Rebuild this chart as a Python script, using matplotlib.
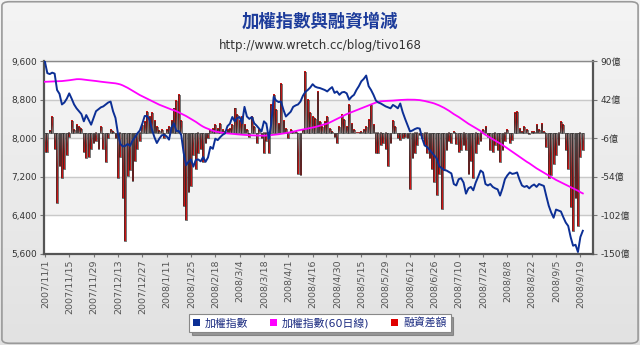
import numpy as np
import matplotlib
matplotlib.use('Agg')
import matplotlib.pyplot as plt
from matplotlib.colors import LinearSegmentedColormap
from matplotlib.patches import Patch, FancyBboxPatch

plt.rcParams['font.family'] = ['DejaVu Sans', 'Noto Sans CJK TC']

# x axis labels (every 10 trading days)
date_labels = ['2007/11/1', '2007/11/15', '2007/11/29', '2007/12/13', '2007/12/27',
               '2008/1/11', '2008/1/25', '2008/2/18', '2008/3/4', '2008/3/18',
               '2008/4/1', '2008/4/16', '2008/4/30', '2008/5/15', '2008/5/29',
               '2008/6/12', '2008/6/26', '2008/7/10', '2008/7/24', '2008/8/8',
               '2008/8/22', '2008/9/5', '2008/9/19']

left_ticks = [5600, 6400, 7200, 8000, 8800, 9600]
right_ticks = [-150, -102, -54, -6, 42, 90]

# 加權指數 (daily close)
taiex = [9590, 9350, 9330, 9360, 9340, 9000, 8920, 8700, 8740, 8820,
         8930, 8820, 8700, 8620, 8560, 8500, 8350, 8480, 8380, 8280,
         8420, 8560, 8600, 8640, 8660, 8700, 8740, 8760, 8560, 8420,
         8100, 7880, 7830, 7840, 7880, 7840, 7950, 8020, 8100, 8160,
         8300, 8460, 8460, 8380, 8180, 8020, 7900, 7990, 8060, 8070,
         8040, 7970, 8220, 8310, 8150, 8150, 8070, 7700, 7440, 7510,
         7560, 7410, 7550, 7560, 7520, 7610, 7510, 7600, 7820, 7780,
         7990, 7960, 8020, 8070, 8100, 8250, 8300, 8440, 8350, 8420,
         8440, 8310, 8650, 8450, 8400, 8440, 8310, 8260, 8200, 8140,
         8350, 8300, 7990, 8300, 8860, 8780, 8750, 8760, 8590, 8450,
         8500, 8550, 8650, 8680, 8700, 8760, 8880, 8960, 9000, 9050,
         9120, 9070, 9050, 9040, 9020, 9000, 8970, 9020, 9060, 8940,
         8970, 8900, 8950, 8960, 8930, 8800, 8860, 8900, 9000, 9080,
         9180, 9230, 9300, 9080, 9000, 8900, 8780, 8740, 8720, 8690,
         8660, 8640, 8620, 8690, 8660, 8620, 8720, 8540, 8400, 8270,
         8140, 8160, 8190, 8210, 8200, 8000, 7850, 7820, 7760, 7700,
         7640, 7580, 7420, 7380, 7340, 7330, 7300, 7270, 7050, 7020,
         7150, 7170, 7080, 6850, 6960, 6990, 6920, 7080, 7200, 7330,
         7290, 7050, 7020, 7050, 6990, 6960, 6940, 6810, 6960, 7150,
         7230, 7290, 7260, 7270, 7290, 7140, 7020, 6990, 7010, 6960,
         7010, 7040, 6990, 7050, 7030, 7010, 6800, 6600, 6460, 6350,
         6520, 6500, 6480, 6360, 6250, 6180, 5950, 5770, 5790, 5640,
         5950, 6080]

# 加權指數 60日線
ma60 = [9170, 9172, 9174, 9176, 9178, 9180, 9182, 9185, 9190, 9196,
        9202, 9210, 9220, 9224, 9225, 9222, 9215, 9208, 9203, 9198,
        9193, 9186, 9180, 9172, 9165, 9160, 9155, 9150, 9145, 9138,
        9128, 9115, 9095, 9070, 9045, 9015, 8985, 8955, 8925, 8895,
        8870, 8845, 8820, 8795, 8770, 8745, 8720, 8695, 8675, 8655,
        8635, 8615, 8595, 8580, 8560, 8535, 8510, 8485, 8460, 8430,
        8400, 8370, 8340, 8305, 8270, 8240, 8215, 8195, 8175, 8155,
        8140, 8130, 8120, 8112, 8105, 8100, 8095, 8090, 8085, 8080,
        8076, 8072, 8068, 8065, 8062, 8060, 8057, 8054, 8052, 8050,
        8052, 8055, 8060, 8065, 8070, 8075, 8082, 8090, 8098, 8106,
        8115, 8125, 8135, 8148, 8160, 8170, 8180, 8190, 8200, 8208,
        8220, 8232, 8245, 8260, 8275, 8290, 8305, 8325, 8350, 8375,
        8400, 8425, 8450, 8475, 8500, 8520, 8540, 8560, 8580, 8600,
        8620, 8640, 8660, 8680, 8700, 8720, 8740, 8755, 8765, 8770,
        8773, 8775, 8777, 8780, 8785, 8790, 8793, 8796, 8798, 8800,
        8800, 8800, 8798, 8795, 8790, 8782, 8772, 8760, 8748, 8735,
        8720, 8700, 8680, 8655, 8630, 8600, 8570, 8535, 8500, 8470,
        8440, 8405, 8370, 8335, 8300, 8270, 8240, 8210, 8180, 8150,
        8105, 8070, 8040, 8010, 7980, 7950, 7920, 7890, 7860, 7825,
        7790, 7755, 7720, 7685, 7650, 7615, 7580, 7545, 7510, 7480,
        7445, 7410, 7375, 7345, 7315, 7285, 7255, 7225, 7195, 7165,
        7135, 7110, 7085, 7060, 7035, 7010, 6985, 6960, 6935, 6910,
        6880, 6855]

# 融資差額 (億)
margin = [-23, -23, 3, 21, -19, -87, -40, -56, -44, -27,
          -5, 15, 4, 10, 8, 6, -23, -31, -29, -19,
          -12, -10, -19, 8, -19, -35, -6, 4, 2, -6,
          -55, -30, -80, -134, -53, -45, -59, -34, -19, -10,
          10, 14, 27, 20, 25, 16, 8, 3, 4, -6,
          4, 8, 16, 31, 40, 48, 15, -90, -108, -73,
          -65, -27, -44, -25, -19, -35, -12, -6, 4, 6,
          10, 6, 12, 4, 2, 4, 6, 10, 31, 23,
          15, 21, 10, 4, -4, 21, 8, -12, 4, -6,
          -25, -10, -25, 35, 48, 29, 12, 62, 15, 6,
          -6, 4, 2, 2, -50, -52, 4, 77, 42, 25,
          21, 18, 52, 14, 8, 14, 21, 6, 2, -4,
          -12, 8, 23, 17, 8, 35, 12, 4, 1, 1,
          2, 4, 8, 17, 35, 10, -25, -25, -15, -12,
          -20, -40, -12, 15, 8, -6, -8, -6, -4, -6,
          -69, -31, -25, -15, -2, -6, -15, -25, -31, -44,
          -60, -77, -50, -94, -46, -21, -10, -12, 2, -13,
          -23, -21, -15, -21, -50, -34, -55, -25, -13, -10,
          4, 8, -4, -21, -23, -15, -21, -36, -21, -10,
          4, -12, -8, 25, 27, 6, 2, 8, 4, -1,
          2, 2, 10, 4, 12, 2, -17, -55, -52, -38,
          -27, -15, 14, 10, -21, -44, -92, -121, -80, -115,
          -30, -21]

x = np.arange(len(taiex))

fig = plt.figure(figsize=(6.4, 3.45), dpi=100)

# background gradient + rounded frame
bg = fig.add_axes([0, 0, 1, 1], zorder=-10)
bg.imshow(np.linspace(0, 1, 100).reshape(-1, 1),
          cmap=LinearSegmentedColormap.from_list('bg', ['#f4f4f4', '#e2e2e2']),
          aspect='auto', extent=(0, 1, 0, 1))
bg.add_patch(FancyBboxPatch((0.003, 0.005), 0.994, 0.99,
                            boxstyle='round,pad=0,rounding_size=0.012',
                            fill=False, ec='#9a9a9a', lw=1.2, transform=bg.transAxes))
bg.axis('off')

ax = fig.add_axes([0.069, 0.264, 0.858, 0.559])   # bars, right axis
ax.set_facecolor('white')
ax2 = ax.twinx()                                    # lines, left axis

# alternating bands + grid
ax.axhspan(right_ticks[3], right_ticks[4], color='#f2f2f2', zorder=0)
ax.axhspan(right_ticks[1], right_ticks[2], color='#f2f2f2', zorder=0)
for t in right_ticks:
    ax.axhline(t, color='#c9c9c9', lw=1, zorder=1)

# gradient bars: grey at zero, red at the tip
bar_cmap = LinearSegmentedColormap.from_list('bar', ['#8a8080', '#9a2020', '#d41414'])
grad = np.linspace(0, 1, 40).reshape(-1, 1)
w = 0.75
for xi, v in zip(x, margin):
    ax.imshow(grad, cmap=bar_cmap, origin='lower', aspect='auto',
              extent=(xi - w / 2, xi + w / 2, 0, v), zorder=2, interpolation='bilinear')
ax.bar(x, margin, width=w, fill=False, edgecolor='#2a2a2a', linewidth=0.45, zorder=3)

ax2.plot(x, ma60, color='#ff00ff', lw=1.3, zorder=4)
ax2.plot(x, taiex, color='#0c2f95', lw=1.4, zorder=5)

ax.set_xlim(-0.3, 225.3)
ax.set_ylim(right_ticks[0], right_ticks[-1])
ax2.set_ylim(left_ticks[0], left_ticks[-1])

ax.yaxis.tick_right()
ax.set_yticks(right_ticks)
ax.set_yticklabels([f'{t}億' for t in right_ticks])
ax2.yaxis.tick_left()
ax2.set_yticks(left_ticks)
ax2.set_yticklabels([f'{t:,}' for t in left_ticks])

ax.set_xticks(np.arange(0, len(date_labels) * 10, 10))
ax.set_xticklabels(date_labels, rotation=90)

ax.tick_params(axis='y', length=3, color='#777', labelsize=6.5, labelcolor='#333', pad=2)
ax2.tick_params(axis='y', length=3, color='#777', labelsize=6.5, labelcolor='#333', pad=2)
ax.tick_params(axis='x', length=2, color='#777', labelsize=6.8, labelcolor='#555', pad=2)

for s in ax.spines.values():
    s.set_visible(False)
for name, s in ax2.spines.items():
    s.set_color('#555555')
    s.set_linewidth(1.6)
ax2.spines['top'].set_color('#8a8a8a')
ax2.spines['top'].set_linewidth(1.0)

fig.text(0.5, 1 - 22 / 345, '加權指數與融資增減', ha='center', va='center',
         fontsize=12.5, color='#1d3c9b', fontweight='bold', family=['Noto Sans CJK TC'])
fig.text(0.5, 1 - 45 / 345, 'http://www.wretch.cc/blog/tivo168', ha='center', va='center',
         fontsize=8.5, color='#333333')

handles = [Patch(fc='#0c2f95'), Patch(fc='#ff00ff'), Patch(fc='#e00000')]
leg = fig.legend(handles, ['加權指數', '加權指數(60日線)', '融資差額'], loc='center',
                 bbox_to_anchor=(0.5, 1 - 323 / 345), ncol=3, fontsize=7.8,
                 frameon=True, fancybox=False, shadow=True, edgecolor='#888888',
                 handlelength=0.6, handleheight=0.6, columnspacing=2.0,
                 handletextpad=0.5, borderpad=0.35, labelcolor='#1a2a80')
leg.get_frame().set_linewidth(0.8)

fig.savefig('out.png', dpi=100)
